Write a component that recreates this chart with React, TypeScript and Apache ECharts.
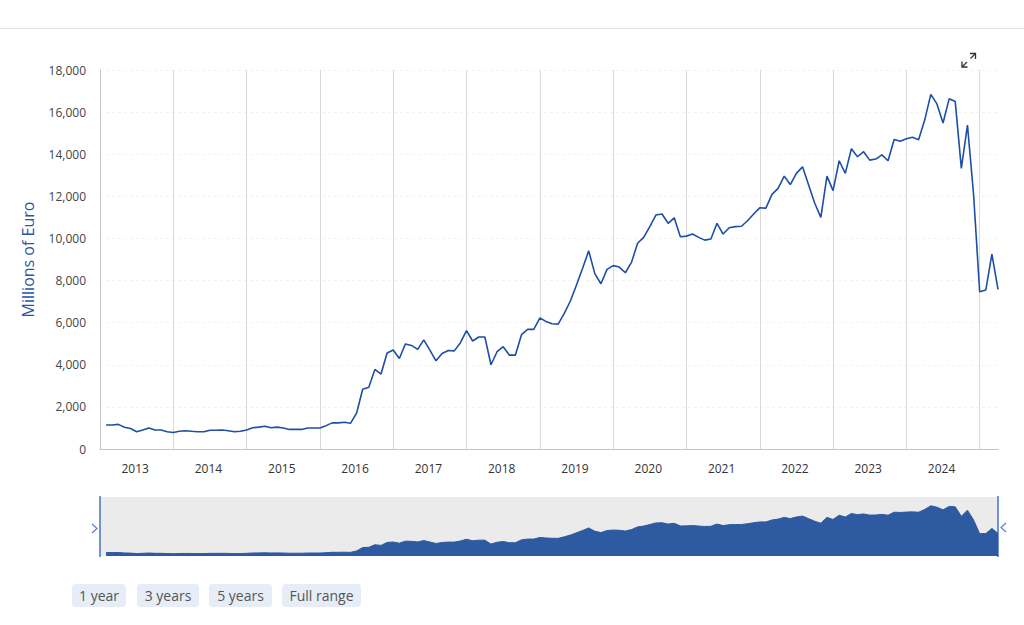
import React, { useEffect, useRef } from "react";
import * as echarts from "echarts";

// Monthly values, millions of euro (Jan 2013 has no observation)
const years = [2013, 2014, 2015, 2016, 2017, 2018, 2019, 2020, 2021, 2022, 2023, 2024, 2025];
const monthCodes = ["01", "02", "03", "04", "05", "06", "07", "08", "09", "10", "11", "12"];

const v2013 = [null, 1140, 1140, 1170, 1030, 970, 820, 900, 1000, 900, 900, 820];
const v2014 = [780, 840, 870, 840, 820, 820, 890, 890, 900, 870, 820, 840];
const v2015 = [900, 1010, 1040, 1080, 1010, 1040, 1000, 930, 930, 930, 1000, 1000];
const v2016 = [1000, 1110, 1240, 1240, 1270, 1220, 1700, 2840, 2930, 3780, 3560, 4560];
const v2017 = [4700, 4300, 4990, 4920, 4730, 5180, 4700, 4190, 4540, 4680, 4660, 5050];
const v2018 = [5620, 5130, 5320, 5320, 4000, 4620, 4860, 4460, 4460, 5430, 5680, 5680];
const v2019 = [6220, 6060, 5950, 5930, 6440, 7030, 7790, 8580, 9410, 8330, 7850, 8530];
const v2020 = [8710, 8640, 8370, 8860, 9770, 10050, 10560, 11110, 11160, 10720, 10980, 10080];
const v2021 = [10110, 10210, 10050, 9920, 9970, 10720, 10210, 10510, 10560, 10580, 10840, 11160];
const v2022 = [11450, 11440, 12090, 12380, 12960, 12560, 13090, 13400, 12540, 11670, 11000, 12960];
const v2023 = [12270, 13690, 13090, 14260, 13880, 14120, 13720, 13770, 13970, 13690, 14700, 14620];
const v2024 = [14730, 14810, 14690, 15620, 16840, 16390, 15480, 16630, 16500, 13330, 15380, 12100];
const v2025 = [7470, 7550, 9250, 7580];

const values: (number | null)[] = [
  ...v2013, ...v2014, ...v2015, ...v2016, ...v2017, ...v2018, ...v2019,
  ...v2020, ...v2021, ...v2022, ...v2023, ...v2024, ...v2025,
];

const categories: string[] = [];
years.forEach((y) => monthCodes.forEach((m) => categories.push(`${y}-${m}`)));
categories.length = values.length;

const yTickMin = 0;
const yTickMax = 18000;
const yTickStep = 2000;

const rangeButtons = ["1 year", "3 years", "5 years", "Full range"];
const yAxisTitle = "Millions of Euro";

const FONT = "'Open Sans', 'Noto Sans', sans-serif";

export default function App() {
  const ref = useRef<HTMLDivElement>(null);

  useEffect(() => {
    if (!ref.current) return;
    const chart = echarts.init(ref.current, undefined, { renderer: "svg" });

    const btnX = [72, 137, 209, 282];
    const btnW = [54, 62, 63, 79];
    const buttons: any[] = [];
    rangeButtons.forEach((label, i) => {
      buttons.push({
        type: "rect",
        shape: { x: btnX[i], y: 584, width: btnW[i], height: 23, r: 4 },
        style: { fill: "#e6edf6" },
      });
      buttons.push({
        type: "text",
        x: btnX[i] + btnW[i] / 2,
        y: 595,
        style: {
          text: label,
          fill: "#555",
          font: `14px ${FONT}`,
          align: "center",
          verticalAlign: "middle",
        },
      });
    });

    chart.setOption({
      animation: false,
      backgroundColor: "#ffffff",
      textStyle: { fontFamily: FONT },
      grid: [
        { left: 100, top: 70, width: 898, height: 379, containLabel: false },
        {
          left: 100, top: 497, width: 898, height: 59,
          show: true, backgroundColor: "#ebebeb", borderWidth: 0,
        },
      ],
      xAxis: [
        {
          type: "category",
          gridIndex: 0,
          data: categories,
          boundaryGap: false,
          axisLine: { show: true, lineStyle: { color: "#c4c4c4", width: 1 } },
          axisTick: { show: false },
          axisLabel: {
            interval: (i: number) => i % 12 === 6,
            formatter: (v: string) => v.slice(0, 4),
            color: "#333",
            fontSize: 12,
            margin: 13,
            padding: [0, 3, 0, 0],
          },
          splitLine: {
            show: true,
            interval: (i: number) => i % 12 === 0,
            lineStyle: { color: "#d9d9d9", width: 1 },
          },
        },
        {
          type: "category",
          gridIndex: 1,
          data: categories,
          boundaryGap: false,
          show: false,
        },
      ],
      yAxis: [
        {
          type: "value",
          gridIndex: 0,
          min: yTickMin,
          max: yTickMax,
          interval: yTickStep,
          name: yAxisTitle,
          nameLocation: "middle",
          nameGap: 64,
          nameTextStyle: { color: "#2a56a8", fontSize: 16, fontFamily: FONT },
          axisLine: { show: true, lineStyle: { color: "#c4c4c4", width: 1 } },
          axisTick: { show: false },
          axisLabel: {
            color: "#444",
            fontSize: 12,
            margin: 14,
            formatter: (v: number) => v.toLocaleString("en-US"),
          },
          splitLine: {
            show: true,
            lineStyle: { color: "#f3f3f3", type: [3, 3], width: 1 },
          },
        },
        {
          type: "value",
          gridIndex: 1,
          min: 0,
          max: 19800,
          show: false,
          splitLine: { show: false },
        },
      ],
      series: [
        {
          type: "line",
          xAxisIndex: 0,
          yAxisIndex: 0,
          data: values,
          showSymbol: false,
          lineStyle: { color: "#1d4fa6", width: 1.6 },
          itemStyle: { color: "#1d4fa6" },
          silent: true,
        },
        {
          type: "line",
          xAxisIndex: 1,
          yAxisIndex: 1,
          data: values,
          showSymbol: false,
          lineStyle: { color: "#2d5aa0", width: 1 },
          areaStyle: { color: "#2d5aa0", opacity: 1 },
          silent: true,
        },
      ],
      graphic: [
        {
          type: "line",
          shape: { x1: 0, y1: 28.5, x2: 1024, y2: 28.5 },
          style: { stroke: "#e3e3e3", lineWidth: 1 },
        },
        // expand icon
        { type: "polyline", shape: { points: [[970, 53.5], [975.5, 53.5], [975.5, 59]] }, style: { stroke: "#333", lineWidth: 1.3, fill: null } },
        { type: "line", shape: { x1: 975.5, y1: 53.5, x2: 970.5, y2: 58.5 }, style: { stroke: "#333", lineWidth: 1.3 } },
        { type: "polyline", shape: { points: [[962, 61.5], [962, 67], [967.5, 67]] }, style: { stroke: "#333", lineWidth: 1.3, fill: null } },
        { type: "line", shape: { x1: 962, y1: 67, x2: 967, y2: 62 }, style: { stroke: "#333", lineWidth: 1.3 } },
        // navigator handles
        { type: "line", shape: { x1: 100, y1: 496, x2: 100, y2: 557 }, style: { stroke: "#7393d0", lineWidth: 2 } },
        { type: "line", shape: { x1: 998, y1: 496, x2: 998, y2: 557 }, style: { stroke: "#7393d0", lineWidth: 2 } },
        { type: "polyline", shape: { points: [[92, 524], [97, 528.5], [92, 533]] }, style: { stroke: "#5b7fc7", lineWidth: 1.2, fill: null } },
        { type: "polyline", shape: { points: [[1006, 523], [1001, 527.5], [1006, 532]] }, style: { stroke: "#5b7fc7", lineWidth: 1.2, fill: null } },
        ...buttons,
      ],
    });

    return () => chart.dispose();
  }, []);

  return (
    <div
      ref={ref}
      style={{ position: "absolute", left: 0, top: 0, width: 1024, height: 625 }}
    />
  );
}
